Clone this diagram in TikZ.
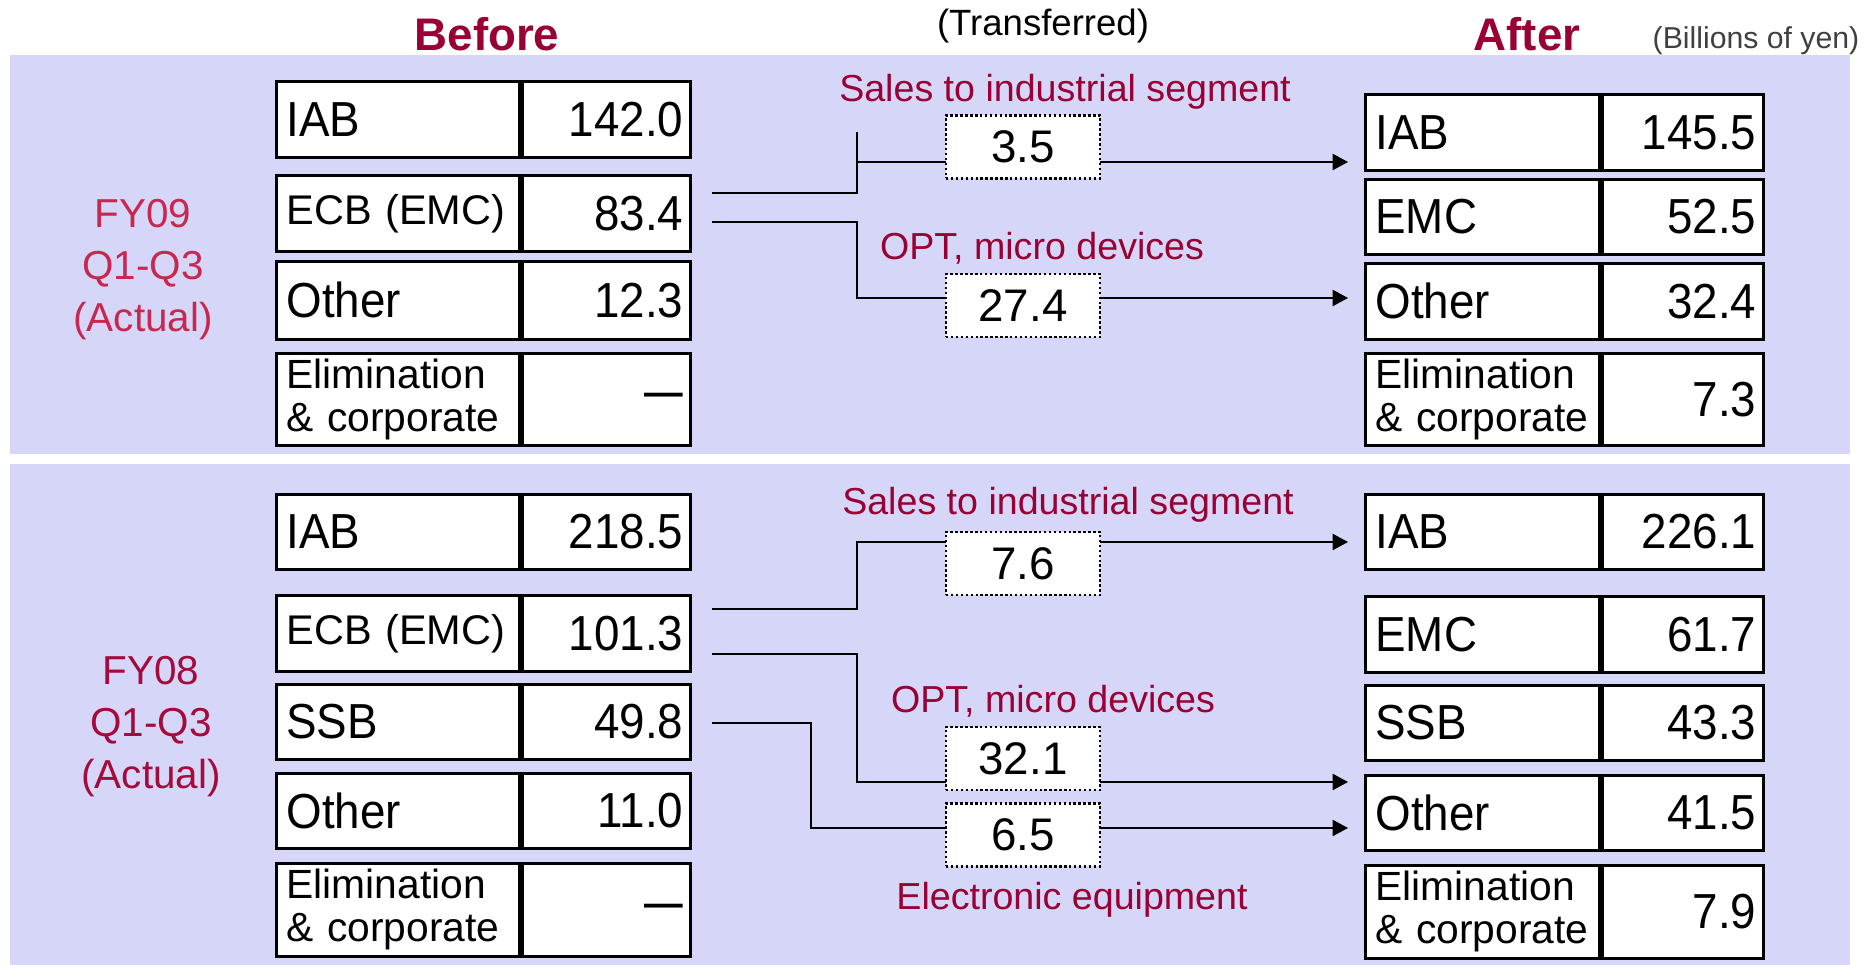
\documentclass[tikz,border=0pt]{standalone}
\usepackage{fontspec}
\setmainfont{Liberation Sans}
\newfontfamily\cellfont[FakeStretch=0.93]{Liberation Sans}
\usetikzlibrary{arrows.meta,calc}
\definecolor{segred}{RGB}{153,0,51}
\definecolor{fynine}{RGB}{200,40,80}
\definecolor{fyeight}{RGB}{165,10,60}
\definecolor{unitgray}{RGB}{64,64,64}
\definecolor{panel}{RGB}{214,214,248}

\begin{document}
\begin{tikzpicture}[>=Stealth,cell/.style={draw=black,line width=0.8pt,fill=white,anchor=north west,inner xsep=0.1cm,inner ysep=0pt,font=\cellfont\fontsize{14}{16}\selectfont},lname/.style={cell,text width=2.23cm,align=left},lval/.style={cell,inner xsep=0.07cm,text width=1.54cm,align=right},rname/.style={cell,text width=2.14cm,align=left},rval/.style={cell,inner xsep=0.07cm,text width=1.47cm,align=right},smallcell/.style={font=\fontsize{11.8}{14}\selectfont},elimcell/.style={font=\fontsize{11.6}{12.2}\selectfont},dashcell/.style={font=\fontsize{11}{13}\selectfont\bfseries},numbox/.style={draw=black,line width=0.7pt,dash pattern=on 0.7pt off 0.7pt,fill=white,minimum width=1.54cm,minimum height=0.63cm,inner sep=0pt,font=\fontsize{13}{15}\selectfont},seglabel/.style={text=segred,font=\fontsize{10.7}{13}\selectfont,anchor=base,inner sep=0pt},heading/.style={text=segred,font=\fontsize{13}{15}\selectfont\bfseries,anchor=base,inner sep=0pt},period/.style={align=center,font=\fontsize{11.5}{14.8}\selectfont,inner sep=0pt},conn/.style={line width=0.55pt},arrow/.style={conn,-{Triangle[length=4.4pt,width=4.6pt]}}]
\useasboundingbox (0,0) rectangle (18.65,9.65);
\fill[panel] (0.10,5.11) rectangle (18.50,9.10); \fill[panel] (0.10,0) rectangle (18.50,5.01);
\node[heading] (before) at (4.87,9.14) {Before}; \node[heading] (after) at (15.27,9.14) {After};
\node[font=\fontsize{10.4}{12}\selectfont,anchor=base,inner sep=0pt] (transf) at (10.43,9.295) {(Transferred)};
\node[text=unitgray,font=\fontsize{8.6}{10}\selectfont,anchor=base east,inner sep=0pt] (unit) at (18.60,9.165) {(Billions of yen)};
\node[period,text=fynine] (fy09) at (1.43,6.95) {FY09\\Q1-Q3\\(Actual)};
\node[period,text=fyeight] (fy08) at (1.51,2.38) {FY08\\Q1-Q3\\(Actual)};
\node[lname,minimum height=0.76cm] (l1iab) at (2.75,8.85) {IAB}; \node[lval,minimum height=0.76cm] (l1iabv) at (l1iab.north east) {142.0};
\node[lname,minimum height=0.76cm,smallcell] (l1ecb) at (2.75,7.91) {ECB (EMC)}; \node[lval,minimum height=0.76cm] (l1ecbv) at (l1ecb.north east) {83.4};
\node[lname,minimum height=0.78cm] (l1oth) at (2.75,7.05) {Other}; \node[lval,minimum height=0.78cm] (l1othv) at (l1oth.north east) {12.3};
\node[lname,minimum height=0.92cm,elimcell] (l1elim) at (2.75,6.13) {Elimination\\\& corporate}; \node[lval,minimum height=0.92cm,dashcell] (l1elimv) at (l1elim.north east) {—};
\node[rname,minimum height=0.76cm] (r1iab) at (13.64,8.72) {IAB}; \node[rval,minimum height=0.76cm] (r1iabv) at (r1iab.north east) {145.5};
\node[rname,minimum height=0.75cm] (r1emc) at (13.64,7.87) {EMC}; \node[rval,minimum height=0.75cm] (r1emcv) at (r1emc.north east) {52.5};
\node[rname,minimum height=0.76cm] (r1oth) at (13.64,7.03) {Other}; \node[rval,minimum height=0.76cm] (r1othv) at (r1oth.north east) {32.4};
\node[rname,minimum height=0.92cm,elimcell] (r1elim) at (13.64,6.13) {Elimination\\\& corporate}; \node[rval,minimum height=0.92cm] (r1elimv) at (r1elim.north east) {7.3};
\node[lname,minimum height=0.75cm] (l2iab) at (2.75,4.72) {IAB}; \node[lval,minimum height=0.75cm] (l2iabv) at (l2iab.north east) {218.5};
\node[lname,minimum height=0.76cm,smallcell] (l2ecb) at (2.75,3.71) {ECB (EMC)}; \node[lval,minimum height=0.76cm] (l2ecbv) at (l2ecb.north east) {101.3};
\node[lname,minimum height=0.75cm] (l2ssb) at (2.75,2.82) {SSB}; \node[lval,minimum height=0.75cm] (l2ssbv) at (l2ssb.north east) {49.8};
\node[lname,minimum height=0.75cm] (l2oth) at (2.75,1.93) {Other}; \node[lval,minimum height=0.75cm] (l2othv) at (l2oth.north east) {11.0};
\node[lname,minimum height=0.93cm,elimcell] (l2elim) at (2.75,1.03) {Elimination\\\& corporate}; \node[lval,minimum height=0.93cm,dashcell] (l2elimv) at (l2elim.north east) {—};
\node[rname,minimum height=0.75cm] (r2iab) at (13.64,4.72) {IAB}; \node[rval,minimum height=0.75cm] (r2iabv) at (r2iab.north east) {226.1};
\node[rname,minimum height=0.76cm] (r2emc) at (13.64,3.70) {EMC}; \node[rval,minimum height=0.76cm] (r2emcv) at (r2emc.north east) {61.7};
\node[rname,minimum height=0.75cm] (r2ssb) at (13.64,2.81) {SSB}; \node[rval,minimum height=0.75cm] (r2ssbv) at (r2ssb.north east) {43.3};
\node[rname,minimum height=0.75cm] (r2oth) at (13.64,1.91) {Other}; \node[rval,minimum height=0.75cm] (r2othv) at (r2oth.north east) {41.5};
\node[rname,minimum height=0.93cm,elimcell] (r2elim) at (13.64,1.01) {Elimination\\\& corporate}; \node[rval,minimum height=0.93cm] (r2elimv) at (r2elim.north east) {7.9};
\coordinate (a1s) at ($(l1ecbv.north east)+(0.2,-0.19)$); \coordinate (a1k) at ($(a1s)+(1.45,0.61)$); \coordinate (a1e) at ($(r1iab.north west)+(-0.16,-0.69)$);
\coordinate (a2s) at ($(l1ecbv.north east)+(0.2,-0.48)$); \coordinate (a2e) at ($(r1oth.north west)+(-0.16,-0.36)$);
\coordinate (b1s) at ($(l2ecbv.north east)+(0.2,-0.15)$); \coordinate (b1e) at ($(r2iab.north west)+(-0.16,-0.49)$);
\coordinate (b2s) at ($(l2ecbv.north east)+(0.2,-0.60)$); \coordinate (b2e) at ($(r2oth.north west)+(-0.16,-0.08)$);
\coordinate (b3s) at ($(l2ssbv.north east)+(0.2,-0.40)$); \coordinate (b3e) at ($(r2oth.north west)+(-0.16,-0.54)$);
\draw[conn] (a1s) -| (a1k); \draw[arrow] (a1k |- a1e) -- (a1e);
\draw[arrow] (a2s) -- ++(1.45,0) |- (a2e);
\draw[arrow] (b1s) -- ++(1.45,0) |- (b1e); \draw[arrow] (b2s) -- ++(1.45,0) |- (b2e); \draw[arrow] (b3s) -- ++(0.99,0) |- (b3e);
\node[numbox] (n1) at (10.23,8.18) {3.5}; \node[numbox] (n2) at (10.23,6.595) {27.4};
\node[numbox] (n3) at (10.23,4.015) {7.6}; \node[numbox] (n4) at (10.23,2.065) {32.1}; \node[numbox] (n5) at (10.23,1.30) {6.5};
\node[seglabel] (s1) at (10.65,8.63) {Sales to industrial segment}; \node[seglabel] (s2) at (10.42,7.05) {OPT, micro devices};
\node[seglabel] (s3) at (10.68,4.50) {Sales to industrial segment}; \node[seglabel] (s4) at (10.53,2.52) {OPT, micro devices};
\node[seglabel] (s5) at (10.72,0.55) {Electronic equipment};
\end{tikzpicture}
\end{document}
